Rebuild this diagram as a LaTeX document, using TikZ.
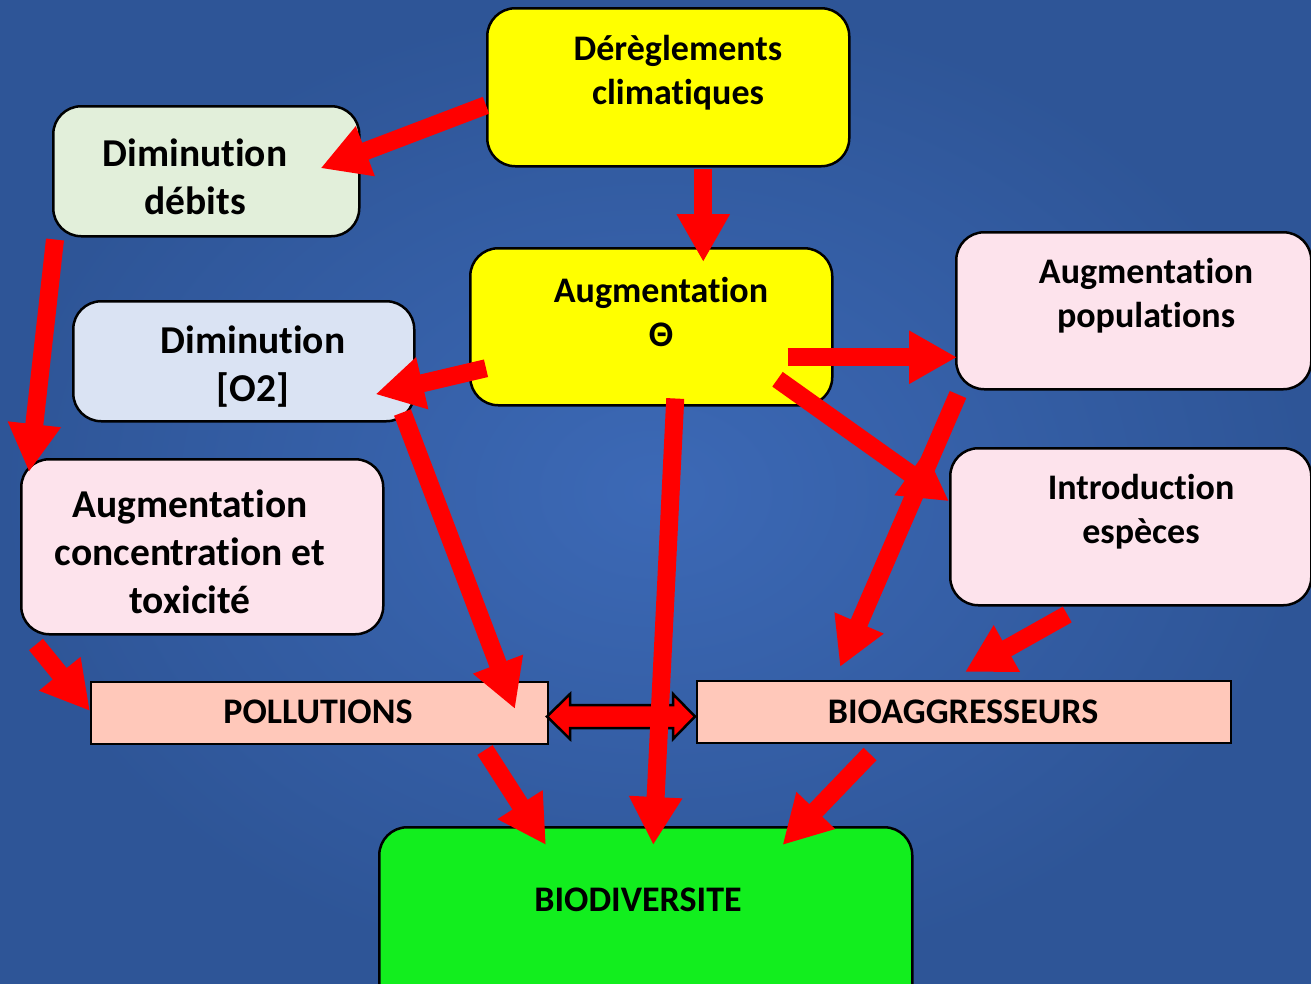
\documentclass[tikz,border=0pt]{standalone}
\usepackage{fontspec}
\setmainfont{Carlito}[Ligatures=NoCommon, Contextuals=NoAlternate]
\usetikzlibrary{arrows.meta,calc}

\definecolor{bgin}{HTML}{3C69B6}
\definecolor{bgout}{HTML}{2E5597}
\definecolor{boxyellow}{HTML}{FFFF00}
\definecolor{boxgreen}{HTML}{E2EFDA}
\definecolor{boxblue}{HTML}{DAE3F3}
\definecolor{boxpink}{HTML}{FDE3EC}
\definecolor{boxsalmon}{HTML}{FFC8BA}
\definecolor{boxlime}{HTML}{12EE1E}
\definecolor{flowred}{HTML}{FF0000}

\begin{document}
\begin{tikzpicture}[x=1pt,y=-1pt,
  box/.style={draw=black, line width=2.5pt, rounded corners=28pt, inner sep=0pt, anchor=north west},
  bar/.style={draw=black, line width=2pt, inner sep=0pt, anchor=north west, fill=boxsalmon},
  lbl/.style={font=\fontsize{36}{44}\selectfont\bfseries, align=center, inner sep=0pt},
  biglbl/.style={font=\fontsize{39.5}{48}\selectfont\bfseries, align=center, inner sep=0pt},
  barlbl/.style={font=\fontsize{36}{40}\selectfont\bfseries, inner sep=0pt},
  flow/.style={draw=flowred, line width=18pt, -{Triangle[length=48pt,width=50pt]}},
  dblflow/.style={fill=flowred, draw=black, line width=2.5pt},
]
% background
\useasboundingbox (0,0) rectangle (1311,983);
\shade[inner color=bgin, outer color=bgout] (0,0) rectangle (1311,983);

% boxes
\node[box, fill=boxyellow, minimum width=362pt, minimum height=158pt] (der) at (486,7) {};
\node[box, fill=boxgreen, minimum width=306pt, minimum height=130pt] (deb) at (52,105) {};
\node[box, fill=boxyellow, minimum width=362pt, minimum height=157pt] (aug) at (469,247) {};
\node[box, fill=boxblue, minimum width=341pt, minimum height=120pt] (oxy) at (72,300) {};
\node[box, fill=boxpink, minimum width=355pt, minimum height=157pt] (pop) at (955,231) {};
\node[box, fill=boxpink, minimum width=361pt, minimum height=157pt] (int) at (949,447) {};
\node[box, fill=boxpink, minimum width=362pt, minimum height=175pt] (tox) at (20,458) {};
\node[bar, minimum width=457pt, minimum height=62pt] (pol) at (90,681) {};
\node[bar, minimum width=534pt, minimum height=62pt] (bag) at (696,680) {};
\node[box, fill=boxlime, minimum width=533pt, minimum height=190pt] (bio) at (378,826) {};

% labels
\node[lbl] (der-t) at (678,73) {Dérèglements\\climatiques};
\node[biglbl] (deb-t) at (195,177) {Diminution\\débits};
\node[lbl] (aug-t) at (661,312) {Augmentation\\Θ};
\node[biglbl] (oxy-t) at (253,367) {Diminution\\{[O2]}};
\node[lbl] (pop-t) at (1146,296) {Augmentation\\populations};
\node[lbl] (int-t) at (1141,512) {Introduction\\espèces};
\node[biglbl] (tox-t) at (190,552) {Augmentation\\concentration et\\toxicité};
\node[barlbl] (pol-t) at (318,712) {POLLUTIONS};
\node[barlbl] (bag-t) at (963,712) {BIOAGGRESSEURS};
\node[barlbl] (bio-t) at (638,900) {BIODIVERSITE};

% two-way link between the two pressures
\coordinate (dl) at ($(pol.east)+(-2,3.5)$);
\coordinate (dr) at ($(bag.west)+(-1,4.5)$);
\path[dblflow] (dl) -- ++(23,-22.5) -- ++(0,11) -- ($(dr)+(-22,-11.5)$) -- ++(0,-11)
  -- (dr) -- ++(-22,22.5) -- ++(0,-11) -- ($(dl)+(23,11.5)$) -- ++(0,11) -- cycle;

% causal arrows
\draw[flow] ($(der.west)+(0,18)$) -- ($(deb.east)+(-40,-3)$);
\draw[flow] ($(der.south)+(35,1)$) -- ($(aug.north)+(52,15)$);
\draw[flow] ($(deb.south west)+(3,2)$) -- ($(tox.north west)+(9,14)$);
\draw[flow] ($(aug.west)+(17,41.5)$) -- ($(oxy.east)+(-40,33)$);
\draw[flow] ($(aug.east)+(-46,30.5)$) -- ($(pop.west)+(2,46.5)$);
\draw[flow] ($(aug.east)+(-56,52.5)$) -- ($(int.west)+(0,-25.5)$);
\draw[flow] ($(pop.south west)+(3,4)$) -- ($(bag.north west)+(144,-13)$);
\draw[flow] ($(int.south)+(-63.5,8)$) -- ($(bag.north west)+(269,-8)$);
\draw[flow] ($(oxy.south east)+(-13,-10)$) -- ($(pol.east)+(-34,-4)$);
\draw[flow] ($(tox.south west)+(16,9)$) -- ($(pol.west)+(0,-2)$);
\draw[flow] ($(aug.south)+(24,-8)$) -- ($(bio.north)+(7.5,19)$);
\draw[flow] ($(pol.south east)+(-64,5)$) -- ($(bio.north west)+(168,19)$);
\draw[flow] ($(bag.south west)+(174,10)$) -- ($(bio.north east)+(-131,19)$);
\end{tikzpicture}
\end{document}
